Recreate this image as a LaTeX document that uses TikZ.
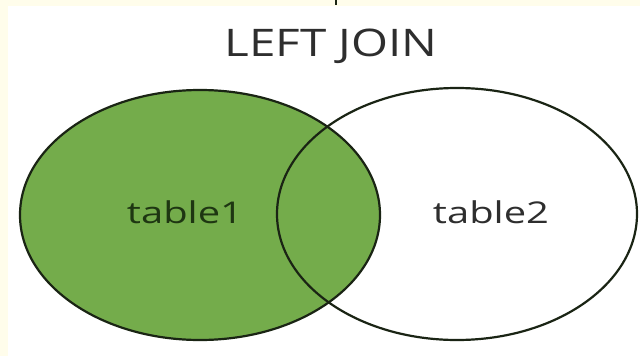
\documentclass[tikz,border=0pt]{standalone}
\usepackage{fontspec}
\setmainfont{Open Sans}
\definecolor{cream}{HTML}{FFFDEB}
\definecolor{vgreen}{HTML}{74AC4B}
\definecolor{edge}{HTML}{1A2414}
\definecolor{txt}{HTML}{2E2E2E}
\definecolor{txtg}{HTML}{1E3612}
\begin{document}
\begin{tikzpicture}[x=1pt,y=-1pt,
  setedge/.style={draw=edge,line width=2.2pt},
  lbl/.style={inner sep=0pt,anchor=base}]
\useasboundingbox (0,0) rectangle (640,356);
\fill[cream] (0,0) rectangle (640,356);
\fill[white] (8,6) rectangle (640,356);
\draw[edge,line width=1.8pt] (336,0) -- (336,5);
% sets
\fill[white] (457,214) ellipse [x radius=180, y radius=126];
\fill[vgreen] (200,215) ellipse [x radius=180, y radius=125];
\draw[setedge] (200,215) ellipse [x radius=180, y radius=125];
\draw[setedge] (457,214) ellipse [x radius=180, y radius=126];
% labels
\node[lbl,text=txt] (title) at (331,56) {\scalebox{1.25}[1]{\fontsize{38}{40}\selectfont LEFT JOIN}};
\node[lbl,text=txtg] (t1) at (185,223) {\scalebox{1.33}[1]{\fontsize{30}{32}\selectfont table1}};
\node[lbl,text=txt] (t2) at (491,223) {\scalebox{1.33}[1]{\fontsize{30}{32}\selectfont table2}};
\end{tikzpicture}
\end{document}
